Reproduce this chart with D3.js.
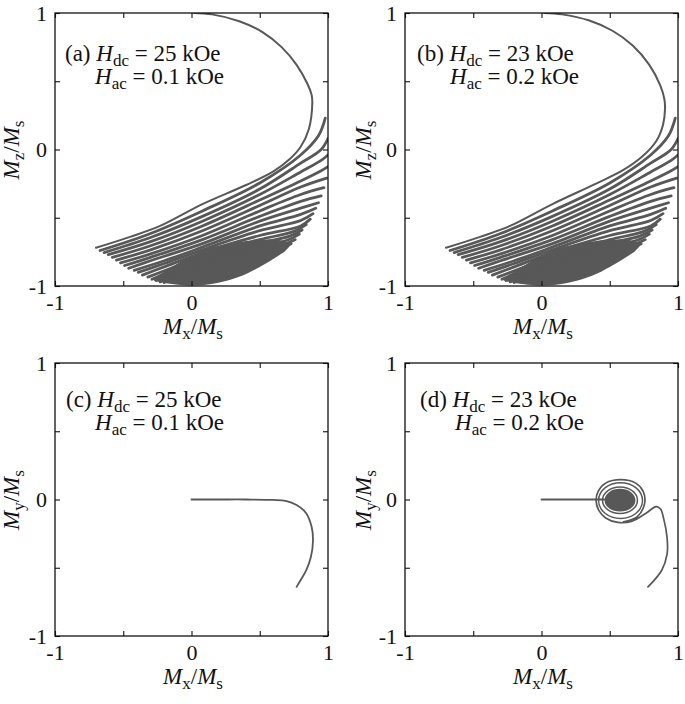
<!DOCTYPE html>
<html>
<head>
<meta charset="utf-8">
<script src="https://cdn.jsdelivr.net/npm/d3@7/dist/d3.min.js"></script>
<style>
  body { margin: 0; background: #fff; }
  svg text { font-family: "Liberation Serif", "Times New Roman", serif; fill: #111; white-space: pre; }
  .trace { fill: none; stroke: #585858; stroke-linecap: round; stroke-linejoin: round; }
</style>
</head>
<body>
<svg id="chart" width="685" height="704"></svg>
<script>
  // --- values (normalised magnetisation) ---
  let tickValues = [-1, -0.5, 0, 0.5, 1];
  let tickText = ['-1', '', '0', '', '1'];

  // Mx-Mz, first half turn coming down from the pole
  let topArcA = [[0.02, 1.0], [0.15, 0.99], [0.35, 0.94], [0.52, 0.86], [0.66, 0.75],
    [0.77, 0.62], [0.85, 0.48], [0.88, 0.40], [0.885, 0.34]];
  let topArcB = [[0.02, 1.0], [0.15, 0.99], [0.35, 0.945], [0.52, 0.87], [0.67, 0.76],
    [0.79, 0.62], [0.87, 0.47], [0.90, 0.37], [0.905, 0.30]];

  // first strand (joins the arc)
  let strand0A = [[-0.70, -0.72], [-0.45, -0.64], [-0.23, -0.56], [0.08, -0.40], [0.40, -0.26],
    [0.60, -0.16], [0.72, -0.07], [0.80, 0.02], [0.86, 0.15], [0.885, 0.34]];
  let strand0B = [[-0.70, -0.72], [-0.45, -0.64], [-0.23, -0.56], [0.08, -0.40], [0.40, -0.25],
    [0.60, -0.15], [0.74, -0.05], [0.84, 0.06], [0.89, 0.18], [0.905, 0.30]];

  // following precession strands (left turning point ... right turning point)
  let strands = [
    [[-0.67, -0.74], [-0.3, -0.615], [0.08, -0.45], [0.5, -0.245], [0.8, -0.04], [0.93, 0.10], [0.98, 0.23]],
    [[-0.64, -0.755], [-0.3, -0.645], [0.08, -0.49], [0.5, -0.29], [0.8, -0.10], [0.95, 0.0], [1.0, 0.08]],
    [[-0.61, -0.77], [-0.3, -0.675], [0.08, -0.525], [0.5, -0.33], [0.8, -0.165], [0.95, -0.08], [1.0, -0.04]],
    [[-0.58, -0.79], [-0.3, -0.705], [0.08, -0.56], [0.5, -0.37], [0.8, -0.23], [0.95, -0.155], [1.0, -0.125]],
    [[-0.55, -0.81], [-0.3, -0.735], [0.08, -0.595], [0.5, -0.41], [0.8, -0.275], [0.99, -0.21]],
    [[-0.52, -0.83], [-0.3, -0.765], [0.08, -0.63], [0.5, -0.45], [0.8, -0.33], [0.97, -0.28]],
    [[-0.49, -0.85], [-0.3, -0.79], [0.08, -0.66], [0.5, -0.49], [0.8, -0.38], [0.95, -0.34]],
    [[-0.46, -0.87], [-0.3, -0.815], [0.08, -0.69], [0.5, -0.525], [0.8, -0.43], [0.93, -0.39]],
    [[-0.42, -0.885], [-0.2, -0.815], [0.08, -0.715], [0.5, -0.56], [0.8, -0.475], [0.91, -0.43]],
    [[-0.39, -0.90], [-0.2, -0.835], [0.08, -0.735], [0.5, -0.595], [0.8, -0.52], [0.89, -0.47]],
    [[-0.36, -0.92], [-0.2, -0.86], [0.08, -0.755], [0.5, -0.63], [0.8, -0.56], [0.87, -0.51]],
    [[-0.32, -0.935], [-0.1, -0.85], [0.08, -0.775], [0.5, -0.66], [0.75, -0.60], [0.84, -0.55]],
    [[-0.29, -0.95], [-0.1, -0.87], [0.08, -0.795], [0.5, -0.685], [0.72, -0.635], [0.81, -0.59]],
    [[-0.26, -0.96], [-0.1, -0.89], [0.08, -0.815], [0.5, -0.705], [0.70, -0.665], [0.79, -0.62]],
    [[-0.23, -0.97], [0.08, -0.835], [0.5, -0.725], [0.68, -0.695], [0.76, -0.66]],
    [[-0.20, -0.975], [0.08, -0.855], [0.45, -0.755], [0.65, -0.725], [0.73, -0.69]]
  ];

  // outline of the solid patch where the strands pile up at the bottom
  let denseZX = [[-0.28, -0.955], [-0.18, -0.885], [-0.05, -0.805], [0.10, -0.735], [0.25, -0.695],
    [0.40, -0.67], [0.55, -0.66], [0.65, -0.665], [0.72, -0.70], [0.69, -0.74], [0.61, -0.795],
    [0.50, -0.86], [0.37, -0.925], [0.22, -0.97], [0.05, -0.995], [-0.10, -0.99], [-0.21, -0.975]];

  // Mx-My, panel (c)
  let traceC = [[0, 0], [0.2, 0], [0.4, 0], [0.6, -0.003], [0.69, -0.01], [0.77, -0.04], [0.84, -0.10],
    [0.88, -0.20], [0.89, -0.30], [0.875, -0.42], [0.84, -0.52], [0.80, -0.59], [0.77, -0.64]];

  // Mx-My, panel (d)
  let leadD = [[0, 0], [0.2, 0], [0.46, 0]];
  let coreD = [0.575, -0.005, 0.113, 0.083];     // cx, cy, rx, ry of the solid centre
  let ringCoreD = [0.575, -0.005, 0.128, 0.097]; // ring hugging the centre
  let ringD1 = [0.579, -0.008, 0.161, 0.131];    // first outer ring
  let exitD = [[0.60, -0.163], [0.70, -0.127], [0.755, -0.03], [0.745, 0.06], [0.69, 0.12], [0.58, 0.145],
    [0.47, 0.12], [0.415, 0.06], [0.40, -0.01], [0.42, -0.08], [0.47, -0.135], [0.56, -0.168],
    [0.66, -0.16], [0.76, -0.105], [0.84, -0.052], [0.872, -0.07], [0.895, -0.14], [0.92, -0.28],
    [0.92, -0.40], [0.88, -0.52], [0.78, -0.64]];

  let svg = d3.select('#chart');
  let W = 273, H = 273;

  function fmt(d) {
    return tickText[tickValues.indexOf(d)];
  }

  function panel(left, top, id) {
    let g = svg.append('g').attr('transform', 'translate(' + left + ',' + top + ')');
    let x = d3.scaleLinear().domain([-1, 1]).range([0, W]);
    let y = d3.scaleLinear().domain([-1, 1]).range([H, 0]);

    g.append('clipPath').attr('id', 'clip-' + id)
      .append('rect').attr('width', W).attr('height', H);

    let plot = g.append('g').attr('clip-path', 'url(#clip-' + id + ')');

    let axes = [
      g.append('g').attr('transform', 'translate(0,' + H + ')')
        .call(d3.axisBottom(x).tickValues(tickValues).tickSize(-5).tickPadding(8).tickFormat(fmt)),
      g.append('g')
        .call(d3.axisTop(x).tickValues(tickValues).tickSize(-5).tickFormat('')),
      g.append('g')
        .call(d3.axisLeft(y).tickValues(tickValues).tickSize(-5).tickPadding(8).tickFormat(fmt)),
      g.append('g').attr('transform', 'translate(' + W + ',0)')
        .call(d3.axisRight(y).tickValues(tickValues).tickSize(-5).tickFormat(''))
    ];
    axes.forEach(function(a) {
      a.attr('font-family', null).attr('font-size', null);
      a.select('.domain').remove();
      a.selectAll('line').attr('stroke', '#111').attr('stroke-width', 1.1);
      a.selectAll('text').attr('font-size', 22).attr('fill', '#111');
    });

    g.append('rect')
      .attr('width', W).attr('height', H)
      .attr('fill', 'none').attr('stroke', '#111').attr('stroke-width', 1.3);

    let line = d3.line()
      .x(function(d) { return x(d[0]); })
      .y(function(d) { return y(d[1]); })
      .curve(d3.curveCatmullRom.alpha(0.5));

    let closed = d3.line()
      .x(function(d) { return x(d[0]); })
      .y(function(d) { return y(d[1]); })
      .curve(d3.curveCatmullRomClosed.alpha(0.5));

    return { g: g, plot: plot, x: x, y: y, line: line, closed: closed };
  }

  function ellipse(p, e) {
    return p.plot.append('ellipse')
      .attr('cx', p.x(e[0])).attr('cy', p.y(e[1]))
      .attr('rx', p.x(e[2]) - p.x(0)).attr('ry', p.y(0) - p.y(e[3]));
  }

  function richText(parent, x0, y0, size, parts) {
    let t = parent.append('text').attr('x', x0).attr('y', y0).attr('font-size', size);
    let shift = 0;
    parts.forEach(function(p) {
      let s = t.append('tspan').text(p.t);
      if (p.i) s.attr('font-style', 'italic');
      let want = p.sub ? 5 : 0;
      if (want !== shift) { s.attr('dy', want - shift); shift = want; }
      if (p.sub) s.attr('font-size', Math.round(size * 0.72));
    });
    return t;
  }

  function note(x0, y0, x1, y1, tag, hdc, hac) {
    richText(svg, x0, y0, 23, [
      { t: tag + ' ' }, { t: 'H', i: true }, { t: 'dc', sub: true }, { t: ' = ' + hdc + ' kOe' }
    ]);
    richText(svg, x1, y1, 23, [
      { t: 'H', i: true }, { t: 'ac', sub: true }, { t: ' = ' + hac + ' kOe' }
    ]);
  }

  function xLabel(cx, base) {
    richText(svg, cx, base, 23, [
      { t: 'M', i: true }, { t: 'x', sub: true }, { t: '/' }, { t: 'M', i: true }, { t: 's', sub: true }
    ]).attr('text-anchor', 'middle');
  }

  function yLabel(bx, cy, comp) {
    let g = svg.append('g').attr('transform', 'translate(' + bx + ',' + cy + ') rotate(-90)');
    richText(g, 0, 0, 23, [
      { t: 'M', i: true }, { t: comp, sub: true }, { t: '/' }, { t: 'M', i: true }, { t: 's', sub: true }
    ]).attr('text-anchor', 'middle');
  }

  function drawZX(p, topArc, strand0) {
    p.plot.append('path')
      .attr('d', p.closed(denseZX))
      .attr('fill', '#585858');
    p.plot.append('path').attr('class', 'trace')
      .attr('stroke-width', 2)
      .attr('d', p.line(topArc.concat(strand0.slice().reverse().slice(1))));
    p.plot.selectAll('.strand')
      .data(strands)
      .enter()
      .append('path')
      .attr('class', 'trace strand')
      .attr('stroke-width', 2.8)
      .attr('d', p.line);
  }

  // (a)
  let pa = panel(55, 13, 'a');
  drawZX(pa, topArcA, strand0A);
  // (b)
  let pb = panel(405, 13, 'b');
  drawZX(pb, topArcB, strand0B);
  // (c)
  let pc = panel(55, 363, 'c');
  pc.plot.append('path').attr('class', 'trace').attr('stroke-width', 1.8).attr('d', pc.line(traceC));
  // (d)
  let pd = panel(405, 363, 'd');
  pd.plot.append('path').attr('class', 'trace').attr('stroke-width', 1.8).attr('d', pd.line(leadD));
  ellipse(pd, coreD).attr('fill', '#585858');
  ellipse(pd, ringCoreD).attr('class', 'trace').attr('stroke-width', 1.5);
  ellipse(pd, ringD1).attr('class', 'trace').attr('stroke-width', 1.5);
  pd.plot.append('path').attr('class', 'trace').attr('stroke-width', 1.7).attr('d', pd.line(exitD));

  note(65, 61, 95, 84, '(a)', 25, 0.1);
  note(417, 61, 450, 84, '(b)', 23, 0.2);
  note(66, 407, 95, 430, '(c)', 25, 0.1);
  note(420, 407, 455, 430, '(d)', 23, 0.2);

  xLabel(193, 334);
  xLabel(543, 334);
  xLabel(193, 684);
  xLabel(543, 684);

  yLabel(19, 150, 'z');
  yLabel(371, 150, 'z');
  yLabel(19, 500, 'y');
  yLabel(371, 500, 'y');
</script>
</body>
</html>
